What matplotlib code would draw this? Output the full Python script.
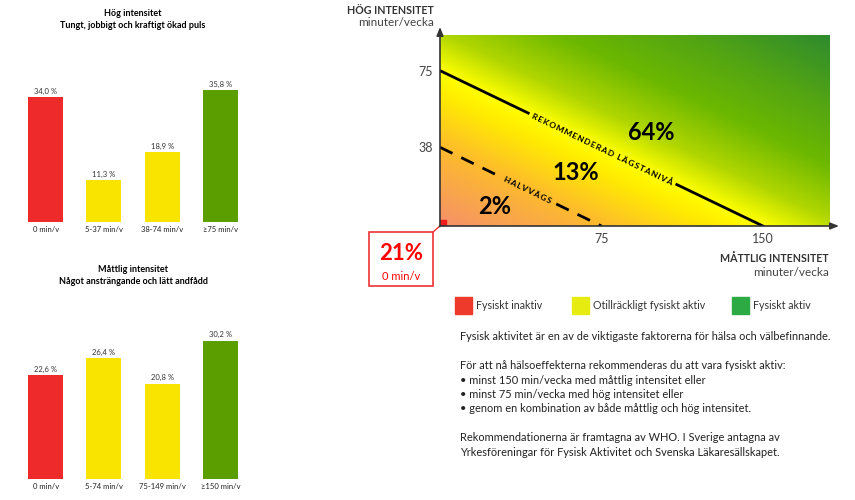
import numpy as np
import matplotlib
matplotlib.use("Agg")
import matplotlib.pyplot as plt
from matplotlib.colors import LinearSegmentedColormap
from matplotlib.patches import Rectangle

plt.rcParams['font.family'] = ['Lato', 'DejaVu Sans']

# === Data ===
hog_labels = ["0 min/v", "5-37 min/v", "38-74 min/v", "\u226575 min/v"]
hog_values = [34.0, 11.3, 18.9, 35.8]
mattlig_labels = ["0 min/v", "5-74 min/v", "75-149 min/v", "\u2265150 min/v"]
mattlig_values = [22.6, 26.4, 20.8, 30.2]
bar_colors = ["#ee2a2a", "#f9e400", "#f9e400", "#5a9e00"]

rec_mattlig = 150   # minuter/vecka måttlig
rec_hog = 75        # minuter/vecka hög
half_mattlig = 75
half_hog = 38
zone_labels = ["64%", "13%", "2%"]
inactive_share = "21%"
legend_labels = ["Fysiskt inaktiv", "Otillräckligt fysiskt aktiv", "Fysiskt aktiv"]
legend_colors = ["#ee3a2a", "#e6ec10", "#2eaa44"]

info_lines = [
    "Fysisk aktivitet är en av de viktigaste faktorerna för hälsa och välbefinnande.",
    "",
    "För att nå hälsoeffekterna rekommenderas du att vara fysiskt aktiv:",
    "\u2022 minst 150 min/vecka med måttlig intensitet eller",
    "\u2022 minst 75 min/vecka med hög intensitet eller",
    "\u2022 genom en kombination av både måttlig och hög intensitet.",
    "",
    "Rekommendationerna är framtagna av WHO. I Sverige antagna av",
    "Yrkesföreningar för Fysisk Aktivitet och Svenska Läkaresällskapet.",
]

W, H = 855, 500
fig = plt.figure(figsize=(W / 100, H / 100), dpi=100)


def box(left, top, right, bottom):
    return [left / W, 1 - bottom / H, (right - left) / W, (bottom - top) / H]


# === Bar charts ===
def bar_panel(rect, labels, values, ymax):
    ax = fig.add_axes(rect)
    x = np.arange(len(values))
    ax.bar(x, values, width=0.6, color=bar_colors)
    for xi, v in zip(x, values):
        ax.text(xi, v + ymax * 0.015, f"{v:.1f} %".replace(".", ","),
                ha="center", va="bottom", fontsize=5.5, color="#333333")
        ax.text(xi, -ymax * 0.025, labels[xi], ha="center", va="top",
                fontsize=5.5, color="#222222")
    ax.set_xlim(-0.5, 3.5)
    ax.set_ylim(0, ymax)
    ax.axis("off")
    return ax


bar_panel(box(16.5, 222 - 40 * 3.68, 249.5, 222), hog_labels, hog_values, 40)
bar_panel(box(16.5, 479 - 35 * 4.58, 249.5, 479), mattlig_labels, mattlig_values, 35)

# === Main chart ===
xmax, ymax = 180.7, 92.2
ax = fig.add_axes(box(440, 35, 829, 226))
gx, gy = np.meshgrid(np.linspace(0, xmax, 400), np.linspace(0, ymax, 200))
s = gx / rec_mattlig + gy / rec_hog
smax = xmax / rec_mattlig + ymax / rec_hog
stops = [(0.0, "#f5906a"), (0.5, "#fdba2e"), (0.85, "#ffec00"), (1.0, "#ffff00"),
         (1.25, "#b0d600"), (1.6, "#6cb800"), (2.0, "#52a414"), (smax, "#2e8b2e")]
cmap = LinearSegmentedColormap.from_list("zone", [(p / smax, c) for p, c in stops])
ax.imshow(s, extent=(0, xmax, 0, ymax), origin="lower", aspect="auto",
          cmap=cmap, vmin=0, vmax=smax)

# recommended line, broken where the label sits
gap = (41, 110)
ax.plot([0, gap[0]], [rec_hog, rec_hog * (1 - gap[0] / rec_mattlig)], color="black", lw=2)
ax.plot([gap[1], rec_mattlig], [rec_hog * (1 - gap[1] / rec_mattlig), 0], color="black", lw=2)
ang = np.degrees(np.arctan2(-rec_hog, rec_mattlig))
mx = sum(gap) / 2
ax.text(mx, rec_hog * (1 - mx / rec_mattlig), "\u2009".join("REKOMMENDERAD LÄGSTANIVÅ"),
        rotation=ang, transform_rotates_text=True, rotation_mode="anchor",
        ha="center", va="center_baseline", fontsize=6, fontweight="bold")

# halfway line
hgap = (27, 54)
ax.plot([0, hgap[0]], [half_hog, half_hog * (1 - hgap[0] / half_mattlig)],
        color="black", lw=2, dashes=(5, 3.5))
ax.plot([hgap[1], half_mattlig], [half_hog * (1 - hgap[1] / half_mattlig), 0],
        color="black", lw=2, dashes=(5, 3.5))
hang = np.degrees(np.arctan2(-half_hog, half_mattlig))
hx = sum(hgap) / 2
ax.text(hx, half_hog * (1 - hx / half_mattlig), "\u2009".join("HALVVÄGS"),
        rotation=hang, transform_rotates_text=True, rotation_mode="anchor",
        ha="center", va="center_baseline", fontsize=6, fontweight="bold")

for (tx, ty), lab in zip([(98, 45), (63, 25.6), (25.5, 9.2)], zone_labels):
    ax.text(tx, ty, lab, ha="center", va="center", fontsize=17, fontweight="bold")

ax.add_patch(Rectangle((0, 0), 2.8, 2.9, color="#ee1c1c", zorder=5))

ax.set_xlim(0, xmax)
ax.set_ylim(0, ymax)
ax.set_xticks([half_mattlig, rec_mattlig])
ax.set_yticks([half_hog, rec_hog])
ax.tick_params(length=0, labelsize=9, colors="#444444", pad=5)
for sp in ax.spines.values():
    sp.set_visible(False)

# === Overlay in pixel coordinates ===
ov = fig.add_axes([0, 0, 1, 1], zorder=10)
ov.set_xlim(0, W)
ov.set_ylim(H, 0)
ov.axis("off")
ov.patch.set_visible(False)

ov.text(133, 14, "Hög intensitet", ha="center", va="center", fontsize=6.5, fontweight="bold")
ov.text(133, 25, "Tungt, jobbigt och kraftigt ökad puls", ha="center", va="center",
        fontsize=6.5, fontweight="bold")
ov.text(133, 270, "Måttlig intensitet", ha="center", va="center", fontsize=6.5, fontweight="bold")
ov.text(133, 282, "Något ansträngande och lätt andfådd", ha="center", va="center",
        fontsize=6.5, fontweight="bold")

arrow = dict(arrowstyle="-|>,head_length=0.5,head_width=0.2", color="#333333", lw=1.2,
             shrinkA=0, shrinkB=0)
ov.annotate("", xy=(440, 27), xytext=(440, 226.5), arrowprops=arrow)
ov.annotate("", xy=(839, 226), xytext=(439.5, 226), arrowprops=arrow)

ov.text(434, 11, "HÖG INTENSITET", ha="right", va="center", fontsize=7.7,
        fontweight="bold", color="#333333")
ov.text(434, 23, "minuter/vecka", ha="right", va="center", fontsize=8.5, color="#444444")
ov.text(829, 259, "MÅTTLIG INTENSITET", ha="right", va="center", fontsize=7.7,
        fontweight="bold", color="#333333")
ov.text(829, 272, "minuter/vecka", ha="right", va="center", fontsize=8.5, color="#444444")

# inactive callout
ov.add_patch(Rectangle((369, 232), 64, 54, fill=False, edgecolor="#ee3333", lw=1.2))
ov.plot([433, 440], [232, 226], color="#ee3333", lw=1)
ov.text(401, 254, inactive_share, ha="center", va="center", fontsize=16,
        fontweight="bold", color="#ff0000")
ov.text(401, 277, "0 min/v", ha="center", va="center", fontsize=8, color="#ff0000")

# legend
for x0, col, lab in zip([455, 572, 732], legend_colors, legend_labels):
    ov.add_patch(Rectangle((x0, 297), 17, 17, color=col))
    ov.text(x0 + 21, 305.5, lab, ha="left", va="center", fontsize=7.7, color="#333333")

# info text
y = 337
for line in info_lines:
    ov.text(460, y, line, ha="left", va="center", fontsize=7.9, color="#222222")
    y += 14.4

fig.savefig("out.png", dpi=100)
